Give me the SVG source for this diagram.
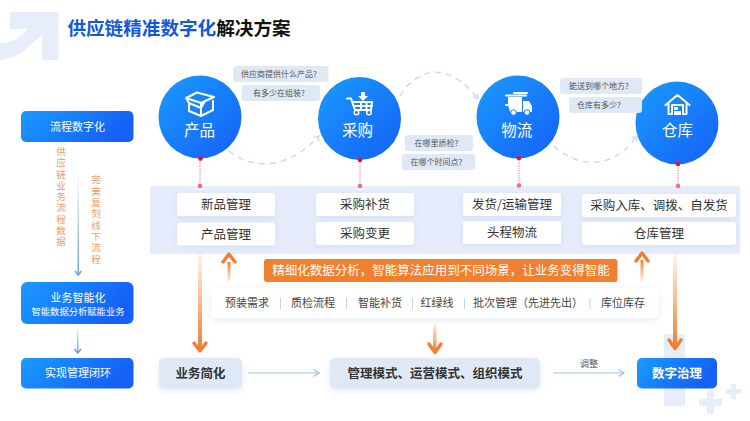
<svg xmlns="http://www.w3.org/2000/svg" width="750" height="421" viewBox="0 0 750 421">
<style>
text{font-family:"Noto Sans CJK SC","Liberation Sans",sans-serif;text-anchor:middle}
.w{fill:#fff}
.q{fill:#555;font-size:8px}
.bub{fill:#dee9f5}
.card{fill:#fff;filter:url(#sh)}
.c13{font-size:12.5px;fill:#333}
.bar{font-size:11px;fill:#444}
.sep{stroke:#bcd6ee;stroke-width:1}
.vo{font-size:9.6px;fill:#f29a62;writing-mode:vertical-rl;letter-spacing:1.7px;text-anchor:start}
.ic{fill:none;stroke:#fff;stroke-width:2;stroke-linejoin:round;stroke-linecap:round}
.nm{font-size:15.500px}
.arc{fill:none;stroke:#c7dcef;stroke-width:1.5;stroke-dasharray:6 5}
.pin{stroke:#f08a98;stroke-width:1;stroke-dasharray:1.5 1}
.thin{stroke:#9cc2e6;stroke-width:1.2;fill:none}
.deco{fill:#e7edfb}
.oh{fill:none;stroke:#f07f30;stroke-width:3.400;stroke-linecap:round;stroke-linejoin:round}
</style>
<defs>
<linearGradient id="bl" x1="0" y1="0" x2="1" y2="1"><stop offset="0" stop-color="#1a9bff"/><stop offset="1" stop-color="#1560f5"/></linearGradient>
<linearGradient id="blh" x1="0" y1="0" x2="1" y2="0.3"><stop offset="0" stop-color="#1a9bff"/><stop offset="1" stop-color="#1560f5"/></linearGradient>
<linearGradient id="od" x1="0" y1="0" x2="0" y2="1"><stop offset="0" stop-color="#f07f30" stop-opacity="0.08"/><stop offset="1" stop-color="#f07f30"/></linearGradient>
<linearGradient id="ou" x1="0" y1="1" x2="0" y2="0"><stop offset="0" stop-color="#f07f30" stop-opacity="0.08"/><stop offset="1" stop-color="#f07f30"/></linearGradient>
<linearGradient id="bd" x1="0" y1="0" x2="0" y2="1"><stop offset="0" stop-color="#6ca3d8" stop-opacity="0.05"/><stop offset="1" stop-color="#6ca3d8"/></linearGradient>
<filter id="sh" x="-10%" y="-30%" width="120%" height="170%"><feDropShadow dx="0" dy="2" stdDeviation="3" flood-color="#b9c9ee" flood-opacity="0.4"/></filter>
<marker id="ah" markerWidth="8" markerHeight="8" refX="6" refY="4" orient="auto" markerUnits="userSpaceOnUse"><path d="M1 1L6 4L1 7" fill="none" stroke="#c7dcef" stroke-width="1.4"/></marker>
<marker id="ta" markerWidth="8" markerHeight="10" refX="6.5" refY="5" orient="auto" markerUnits="userSpaceOnUse"><path d="M1 1.5L6.5 5L1 8.5" fill="none" stroke="#9cc2e6" stroke-width="1.2"/></marker>
</defs>
<rect width="750" height="421" fill="#fff"/>

<g id="decor">
<path class="deco" d="M10 12H58.500V60H42V35L28 47C20 55 10 60 0 60V43C8 43 17 40 23 34L28 29H10Z"/>
<rect class="deco" x="664" y="334" width="21" height="72"/>
<path class="deco" d="M707 391h7v8h8v7h-8v8h-7v-8h-8v-7h8z"/>
<path class="deco" d="M731 384h5v5h5v5h-5v5h-5v-5h-5v-5h5z"/>
</g>

<g id="title"><text x="179" y="35" font-size="18.600" font-weight="700"><tspan fill="#1258e0">供应链精准数字化</tspan><tspan fill="#111">解决方案</tspan></text></g>

<rect id="band" x="150" y="186" width="590" height="68" fill="#e6ecfb"/>

<g id="left-1"><rect x="21" y="111" width="112.500" height="31" rx="5" fill="url(#blh)"/><text class="w" x="77.500" y="131" font-size="11">流程数字化</text></g>
<g id="left-2"><rect x="21" y="282" width="112.500" height="42" rx="6" fill="url(#blh)"/><text class="w" x="78" y="302" font-size="11">业务智能化</text><text class="w" x="78" y="315" font-size="9.300">智能数据分析赋能业务</text></g>
<g id="left-3"><rect x="21" y="358" width="112.500" height="30.500" rx="5" fill="url(#blh)"/><text class="w" x="78" y="377" font-size="11">实现管理闭环</text></g>

<text id="vtext-1" class="vo" x="61" y="146.500">供应链业务流程数据</text>
<text id="vtext-2" class="vo" x="96" y="175">完美复刻线下流程</text>

<g id="node-product"><circle cx="200" cy="117" r="41.500" fill="url(#bl)"/>
<path class="ic" d="M189 103V111L201 116L213 110V101M186 98L197 92.500L214 97L201 103ZM186 98L189 103L201 108L205 101M201 103V116"/>
<text class="w nm" x="199.500" y="136">产品</text></g>
<g id="node-purchase"><circle cx="359.500" cy="118.500" r="41.500" fill="url(#bl)"/>
<path class="ic" d="M347 98.500H351L355 110H371L372 102H353M361 102V110M366.500 102V110M354 106H372" stroke-width="1.600"/>
<path d="M361 92H365V96H368L363 101L358 96H361Z" fill="#fff"/>
<circle cx="356.500" cy="112.500" r="2.300" fill="none" stroke="#fff" stroke-width="1.500"/><circle cx="369" cy="112.500" r="2.300" fill="none" stroke="#fff" stroke-width="1.500"/>
<text class="w nm" x="357.500" y="136">采购</text></g>
<g id="node-logistics"><circle cx="518" cy="117" r="41.500" fill="url(#bl)"/>
<path d="M506 95.500H526M514 93H527M506 105H509" class="ic" stroke-width="1.200"/>
<path d="M508 97H522V112H510L508 105ZM523 101H529L532 106V112H523Z" fill="#fff"/>
<circle cx="513.500" cy="112.500" r="2.800" fill="#fff" stroke="#1a7dfa"/><circle cx="527" cy="112.500" r="2.800" fill="#fff" stroke="#1a7dfa"/>
<text class="w nm" x="516.700" y="136">物流</text></g>
<g id="node-warehouse"><circle cx="677" cy="123" r="41.500" fill="url(#bl)"/>
<path class="ic" d="M665.500 105L677.500 95L689.500 105M668.500 104V114H672V105H683V114H686.500V104"/>
<path d="M674 107H678V110H674ZM674 111H681V115H674Z" fill="#fff"/>
<text class="w nm" x="677.500" y="136">仓库</text></g>

<g id="q-1"><rect class="bub" x="233" y="66" width="95.500" height="16" rx="3"/><text class="q" x="279" y="76.800">供应商提供什么产品?</text></g>
<g id="q-2"><rect class="bub" x="241.500" y="85" width="78.500" height="16" rx="3"/><text class="q" x="279" y="95.800">有多少在组装?</text></g>
<g id="q-3"><rect class="bub" x="405" y="135" width="68" height="16" rx="3"/><text class="q" x="436.500" y="146">在哪里质检?</text></g>
<g id="q-4"><rect class="bub" x="402" y="154" width="73" height="16" rx="3"/><text class="q" x="436.500" y="165">在哪个时间点?</text></g>
<g id="q-5"><rect class="bub" x="560" y="78" width="82" height="16" rx="3"/><text class="q" x="599" y="89">能送到哪个地方?</text></g>
<g id="q-6"><rect class="bub" x="569" y="97" width="73" height="16" rx="3"/><text class="q" x="599" y="108">仓库有多少?</text></g>

<g id="card-1"><rect class="card" x="177" y="193" width="98" height="23" rx="3"/><text class="c13" x="226" y="209">新品管理</text></g>
<g id="card-2"><rect class="card" x="177" y="222.500" width="98" height="23" rx="3"/><text class="c13" x="226" y="238.500">产品管理</text></g>
<g id="card-3"><rect class="card" x="316" y="193" width="98" height="23" rx="3"/><text class="c13" x="365" y="209">采购补货</text></g>
<g id="card-4"><rect class="card" x="316" y="222" width="98" height="23" rx="3"/><text class="c13" x="365" y="238">采购变更</text></g>
<g id="card-5"><rect class="card" x="463" y="193" width="98" height="23" rx="3"/><text class="c13" x="512" y="209">发货/运输管理</text></g>
<g id="card-6"><rect class="card" x="463" y="221" width="98" height="23" rx="3"/><text class="c13" x="512" y="237">头程物流</text></g>
<g id="card-7"><rect class="card" x="582" y="194" width="154" height="23" rx="3"/><text class="c13" x="659" y="210">采购入库、调拨、自发货</text></g>
<g id="card-8"><rect class="card" x="582" y="222" width="154" height="23" rx="3"/><text class="c13" x="659" y="238">仓库管理</text></g>

<g id="insight"><rect x="264" y="259" width="353.500" height="23" rx="3" fill="#f07f30"/><text class="w" x="441" y="275" font-size="12.500">精细化数据分析，智能算法应用到不同场景，让业务变得智能</text></g>
<g id="scenarios"><rect class="card" x="211" y="288" width="448" height="30" rx="5"/>
<text class="bar" x="247" y="307">预装需求</text><text class="bar" x="313" y="307">质检流程</text><text class="bar" x="380" y="307">智能补货</text><text class="bar" x="437" y="307">红绿线</text><text class="bar" x="528" y="307">批次管理（先进先出）</text><text class="bar" x="623" y="307">库位库存</text>
<path class="sep" d="M280.500 298V309M346.500 298V309M412.500 298V309M464.500 298V309M590 298V309"/></g>

<g id="b-simplify"><rect x="159" y="358" width="83" height="30.500" rx="5" fill="#dee9f5" filter="url(#sh)"/><text x="200.500" y="378" font-size="12.500" font-weight="700" fill="#333">业务简化</text></g>
<g id="b-mode"><rect x="330" y="358" width="210" height="30.500" rx="5" fill="#dee9f5" filter="url(#sh)"/><text x="435" y="378" font-size="12.500" font-weight="700" fill="#333">管理模式、运营模式、组织模式</text></g>
<g id="b-gov"><rect x="637" y="358" width="80" height="30.500" rx="5" fill="url(#blh)"/><text class="w" x="677" y="378" font-size="12.500" font-weight="700">数字治理</text></g>
<text id="adjust" x="589" y="367" font-size="9" fill="#555">调整</text>

<g id="connectors">
<path class="arc" marker-end="url(#ah)" d="M229 151C246 165 282 176 319 136"/>
<path class="arc" marker-end="url(#ah)" d="M400 96C418 66 450 62 478 99"/>
<path class="arc" marker-end="url(#ah)" d="M554 146C574 165 610 174 637 136"/>
<path class="pin" d="M200 160V186M360 161V186M519 160V185M678 165V186"/>
<g fill="#e8112d"><circle cx="200.500" cy="158.500" r="2.300"/><circle cx="360" cy="160" r="2.300"/><circle cx="519" cy="158" r="2.300"/><circle cx="678" cy="164" r="2.300"/></g>
<g fill="#ec7187"><circle cx="200" cy="186" r="2.300"/><circle cx="360" cy="186" r="2.300"/><circle cx="519" cy="185.500" r="2.300"/><circle cx="678" cy="186" r="2.300"/></g>
<rect x="198" y="254" width="4" height="96" fill="url(#od)"/><path class="oh" d="M194 343L200 351L206 343"/>
<rect x="227.500" y="262" width="3" height="20" fill="url(#ou)"/><path class="oh" d="M223 262L229 254L235 262"/>
<rect x="433" y="323" width="3.500" height="29" fill="url(#od)"/><path class="oh" d="M429 344L435 352.500L441 344"/>
<rect x="640.500" y="260" width="3" height="22" fill="url(#ou)"/><path class="oh" d="M636 261L642 253L648 261"/>
<rect x="673" y="254" width="4" height="93" fill="url(#od)"/><path class="oh" d="M669 340L675 348.500L681 340"/>
<path class="thin" marker-end="url(#ta)" d="M248 373H319"/>
<path class="thin" marker-end="url(#ta)" d="M553 373H624"/>
<rect x="77.500" y="176" width="1.500" height="98" fill="url(#bd)"/><path d="M75 271L78.300 275L81.500 271" fill="none" stroke="#6ca3d8" stroke-width="1.600"/>
<rect x="77" y="327" width="1.500" height="26" fill="url(#bd)"/><path d="M74.500 349L77.800 353L81 349" fill="none" stroke="#6ca3d8" stroke-width="1.600"/>
</g>
</svg>
